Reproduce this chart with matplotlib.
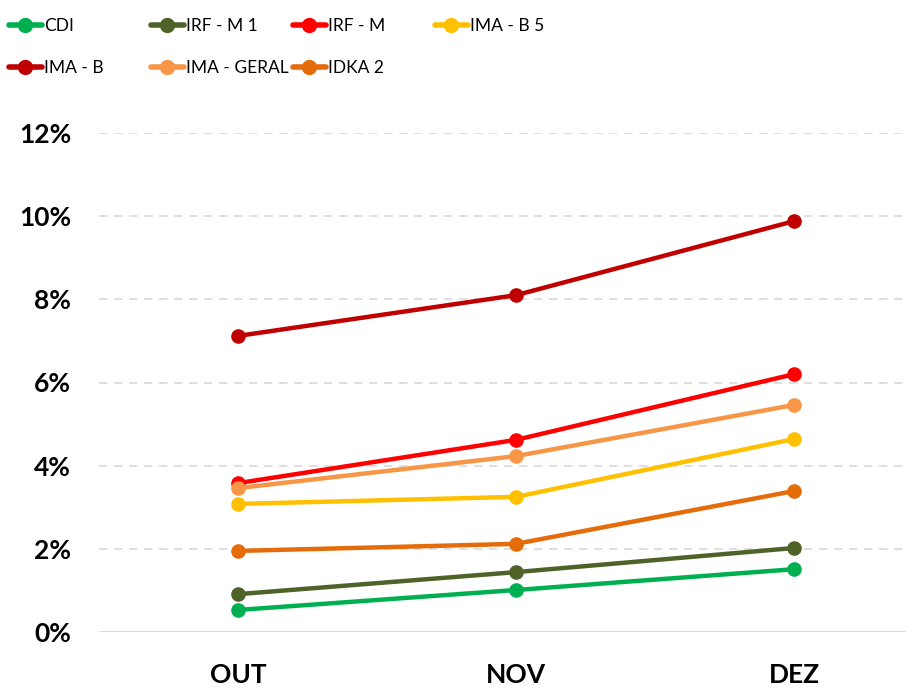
import matplotlib

matplotlib.use("Agg")
import matplotlib.pyplot as plt
from matplotlib.ticker import FuncFormatter

plt.rcParams["font.family"] = ["Lato", "DejaVu Sans"]

months = ["OUT", "NOV", "DEZ"]

cdi = [0.53, 1.01, 1.51]
irf_m1 = [0.91, 1.44, 2.02]
irf_m = [3.58, 4.62, 6.20]
ima_b5 = [3.08, 3.25, 4.64]
ima_b = [7.12, 8.10, 9.88]
ima_geral = [3.46, 4.23, 5.46]
idka2 = [1.95, 2.12, 3.39]

series = [
    ("CDI", cdi, "#00B050"),
    ("IRF - M 1", irf_m1, "#4F6228"),
    ("IRF - M", irf_m, "#FF0000"),
    ("IMA - B 5", ima_b5, "#FFC000"),
    ("IMA - B", ima_b, "#C00000"),
    ("IMA - GERAL", ima_geral, "#F79646"),
    ("IDKA 2", idka2, "#E46C0A"),
]

W, H = 906, 690
fig = plt.figure(figsize=(W / 100, H / 100), dpi=100)
# plot area runs past the right edge like the original crop
ax = fig.add_axes([99 / W, 1 - 632 / H, 834 / W, 499 / H])

x = list(range(len(months)))
handles = []
for name, vals, col in series:
    (ln,) = ax.plot(x, vals, color=col, lw=3.2, marker="o", ms=9.5,
                    solid_capstyle="round", label=name, zorder=3)
    handles.append(ln)

ax.set_xlim(-0.5, 2.5)
ax.set_ylim(0, 12)
ax.set_yticks(range(0, 13, 2))
ax.yaxis.set_major_formatter(FuncFormatter(lambda v, p: f"{v:.0f}%"))
ax.set_xticks(x)
ax.set_xticklabels(months)

for s in ax.spines.values():
    s.set_visible(False)
ax.tick_params(length=0)
ax.tick_params(axis="y", pad=20, labelsize=19)
ax.tick_params(axis="x", pad=22, labelsize=19)
for t in ax.get_xticklabels() + ax.get_yticklabels():
    t.set_fontweight("bold")

for yv in range(2, 13, 2):
    ax.axhline(yv, color="#D9D9D9", lw=1.2, ls=(0, (5, 4)), zorder=1)
ax.axhline(0, color="#D9D9D9", lw=2, zorder=1)

# legend: four columns, two rows
cols = [[0, 4], [1, 5], [2, 6], [3]]
col_x = [9, 151, 293, 435]
for cx, idx in zip(col_x, cols):
    leg = fig.legend([handles[i] for i in idx], [series[i][0] for i in idx],
                     loc="upper left", bbox_to_anchor=(cx / W, 1 - 18 / H),
                     frameon=False, handlelength=1.9, handletextpad=0.1,
                     labelspacing=1.5, borderpad=0, borderaxespad=0,
                     fontsize=12.5)
    for ln in leg.get_lines():
        ln.set_linewidth(4)
        ln.set_markersize(10)

fig.savefig("out.png", dpi=100)
